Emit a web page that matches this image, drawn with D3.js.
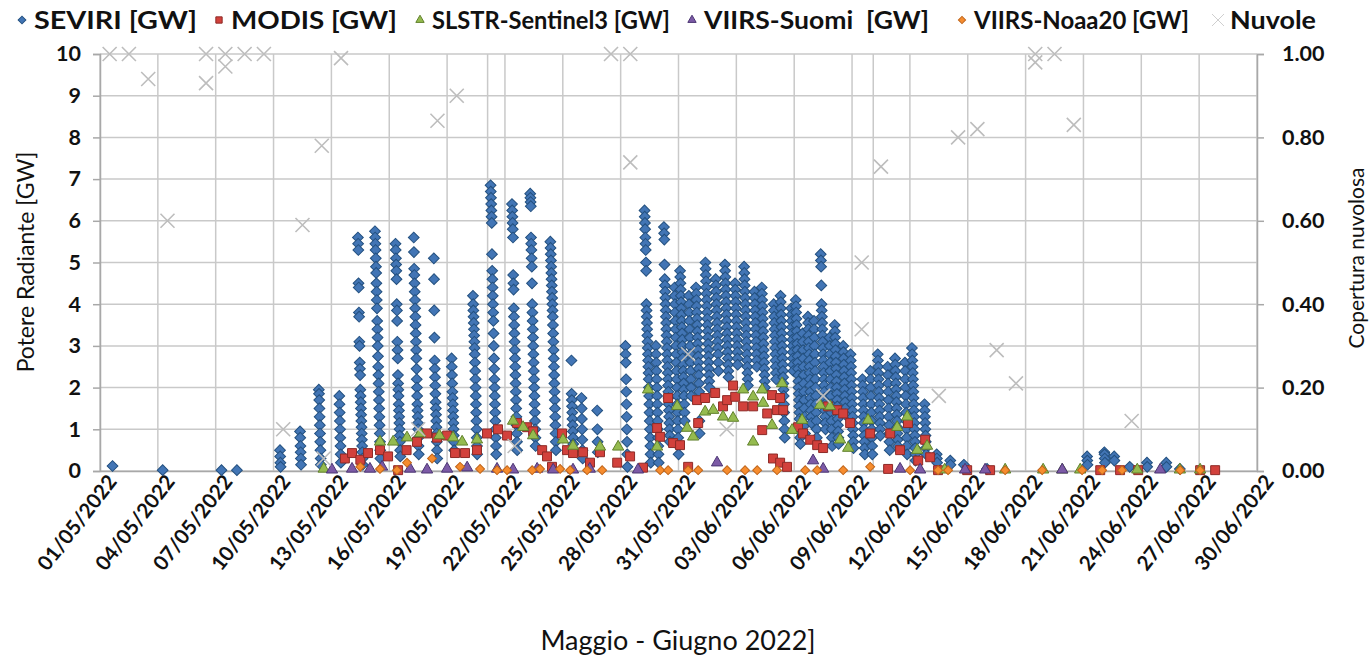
<!DOCTYPE html>
<html>
<head>
<meta charset="utf-8">
<script src="https://cdn.jsdelivr.net/npm/d3@7"></script>
<style>
body { margin: 0; background: #fff; }
svg text { font-family: Lato, "Open Sans", sans-serif; fill: #111; }
</style>
</head>
<body>
<script>
// times are in days counted from 01/05/2022 00:00 (UTC)
var tickLabels = ["01/05/2022","04/05/2022","07/05/2022","10/05/2022","13/05/2022","16/05/2022","19/05/2022",
  "22/05/2022","25/05/2022","28/05/2022","31/05/2022","03/06/2022","06/06/2022","09/06/2022","12/06/2022",
  "15/06/2022","18/06/2022","21/06/2022","24/06/2022","27/06/2022","30/06/2022"];

var seriesNames = ["SEVIRI [GW]", "MODIS [GW]", "SLSTR-Sentinel3 [GW]", "VIIRS-Suomi  [GW]", "VIIRS-Noaa20 [GW]", "Nuvole"];

// SEVIRI: one column of 15-minute retrievals per day (centre of the column)
var seviriDays = [0.65, 3.25, 6.3, 7.1, 9.35, 10.4, 11.4, 12.45, 13.5, 14.4, 15.45, 16.4, 17.4, 18.3, 19.45,
  20.4, 21.5, 22.45, 23.5, 24.5, 25.0, 25.8, 27.3, 28.4, 28.9, 29.4, 29.9, 30.2, 30.6, 31.0, 31.5, 32.0, 32.5,
  33.0, 33.5, 34.0, 34.4, 35.0, 35.4, 35.9, 36.2, 36.5, 36.8, 37.1, 37.5, 37.9, 38.2, 38.6, 39.0, 39.6, 40.0,
  40.4, 40.9, 41.3, 41.8, 42.2, 42.8, 43.4, 44.1, 44.8, 46.0, 51.2, 52.1, 52.6, 53.4, 54.3, 55.3, 56.0];
var seviriCols = [
  [0.12], [0.02], [0.02], [0.02],
  [0.5, 0.35, 0.2, 0.1],
  [0.95, 0.8, 0.6, 0.45, 0.3, 0.15],
  [1.95, 1.85, 1.7, 1.5, 1.3, 1.1, 0.9, 0.7, 0.5, 0.3, 0.15],
  [1.8, 1.6, 1.4, 1.2, 1.0, 0.8, 0.6, 0.4, 0.2],
  [5.6, 5.45, 5.3, 4.5, 4.4, 3.8, 3.7, 3.1, 3.0, 2.6, 2.45, 2.3, 1.95, 1.8, 1.65, 1.5, 1.35, 1.2, 1.05, 0.9, 0.75, 0.6, 0.45, 0.3, 0.15],
  [5.75, 5.6, 5.45, 5.3, 5.1, 4.9, 4.75, 4.5, 4.3, 4.1, 3.9, 3.6, 3.4, 3.2, 3.0, 2.75, 2.5, 2.3, 2.1, 1.9, 1.7, 1.5, 1.3, 1.1, 0.9, 0.7, 0.5, 0.3],
  [5.45, 5.3, 5.1, 4.95, 4.8, 4.6, 4.0, 3.85, 3.6, 3.1, 2.9, 2.7, 2.3, 2.1, 1.95, 1.8, 1.6, 1.45, 1.3, 1.15, 1.0, 0.85, 0.7, 0.5, 0.35],
  [5.6, 5.25, 4.85, 4.7, 4.5, 4.3, 4.1, 3.9, 3.7, 3.5, 3.3, 3.1, 2.9, 2.7, 2.45, 2.2, 2.0, 1.8, 1.6, 1.45, 1.3, 1.15, 1.0, 0.8, 0.6, 0.4],
  [5.1, 4.6, 3.85, 3.2, 2.65, 2.45, 2.25, 2.05, 1.85, 1.65, 1.5, 1.35, 1.2, 1.05, 0.9, 0.7, 0.5, 0.3],
  [2.7, 2.5, 2.3, 2.1, 1.9, 1.75, 1.6, 1.45, 1.3, 1.15, 1.0, 0.85, 0.7, 0.5],
  [4.2, 4.0, 3.85, 3.7, 3.55, 3.4, 3.25, 3.1, 2.95, 2.8, 2.6, 2.4, 2.2, 2.0, 1.8, 1.6, 1.4, 1.2, 1.0, 0.8, 0.6, 0.4],
  [6.85, 6.7, 6.55, 6.4, 6.25, 6.1, 5.95, 5.2, 4.8, 4.6, 4.4, 4.2, 4.0, 3.8, 3.6, 3.3, 3.0, 2.7, 2.45, 2.2, 2.0, 1.8, 1.6, 1.4, 1.2, 1.0, 0.8, 0.6, 0.4],
  [6.4, 6.25, 6.1, 5.95, 5.8, 5.6, 4.7, 4.5, 4.35, 3.9, 3.7, 3.5, 3.3, 3.1, 2.9, 2.7, 2.5, 2.3, 2.1, 1.9, 1.7, 1.5, 1.3, 1.1, 0.9, 0.7, 0.5],
  [6.65, 6.55, 6.45, 6.35, 5.6, 5.45, 5.3, 5.1, 4.9, 4.5, 4.0, 3.8, 3.6, 3.4, 3.2, 3.0, 2.8, 2.6, 2.4, 2.2, 2.0, 1.8, 1.6, 1.4, 1.2, 1.0, 0.8, 0.6],
  [5.5, 5.35, 5.2, 5.05, 4.9, 4.75, 4.6, 4.45, 4.3, 4.15, 4.0, 3.85, 3.7, 3.5, 3.3, 3.1, 2.9, 2.7, 2.5, 2.3, 2.1, 1.9, 1.7, 1.5, 1.3, 1.1, 0.9, 0.7, 0.5],
  [2.65, 1.85, 1.7, 1.55, 1.4, 1.25, 1.1, 0.95, 0.8, 0.65, 0.5],
  [1.75, 1.5, 1.25, 1.0, 0.75, 0.5, 0.3],
  [1.45, 1.0, 0.7, 0.45],
  [3.0, 2.8, 2.6, 2.2, 1.9, 1.6, 1.3, 1.0, 0.7, 0.4, 0.1],
  [6.25, 6.1, 5.95, 5.8, 5.6, 5.45, 5.3, 5.0, 4.8, 4.0, 3.85, 3.7, 3.55, 3.4, 3.25, 3.1, 2.95, 2.8, 2.65, 2.5, 2.35, 2.2, 2.0, 1.8, 1.6, 1.4, 1.2, 1.0, 0.8, 0.6, 0.4, 0.2],
  [3.0, 2.8, 2.6, 2.4, 2.2, 2.0, 1.8, 1.6, 1.4, 1.2, 1.0, 0.8, 0.6, 0.4, 0.2],
  [5.85, 5.7, 5.55, 4.95, 4.6, 4.45, 4.3, 4.15, 4.0, 3.85, 3.7, 3.55, 3.4, 3.25, 3.1, 2.95, 2.8, 2.65, 2.5, 2.35, 2.2, 2.05, 1.9, 1.75, 1.6, 1.45, 1.3, 1.15, 1.0, 0.85, 0.7],
  [4.4, 4.2, 4.0, 3.8, 3.6, 3.4, 3.2, 3.0, 2.8, 2.6, 2.4, 2.2, 2.0, 1.8, 1.6, 1.4, 1.2, 1.0, 0.8, 0.6, 0.4],
  [4.8, 4.65, 4.5, 4.35, 4.2, 4.05, 3.9, 3.75, 3.6, 3.45, 3.3, 3.15, 3.0, 2.85, 2.7, 2.55, 2.4, 2.25, 2.1, 1.95, 1.8, 1.6, 1.4, 1.2],
  [4.2, 4.0, 3.8, 3.6, 3.4, 3.2, 3.0, 2.8, 2.6, 2.4, 2.2, 2.0, 1.8],
  [4.4, 4.25, 4.1, 3.95, 3.8, 3.65, 3.5, 3.35, 3.2, 3.05, 2.9, 2.75, 2.6, 2.45, 2.3, 2.1, 1.9, 1.2, 0.9],
  [5.0, 4.85, 4.7, 4.55, 4.4, 4.25, 4.1, 3.95, 3.8, 3.65, 3.5, 3.35, 3.2, 3.05, 2.9, 2.75, 2.6, 2.45, 2.3, 2.15, 2.0],
  [4.6, 4.45, 4.3, 4.15, 4.0, 3.85, 3.7, 3.55, 3.4, 3.25, 3.1, 2.95, 2.8, 2.6, 2.4],
  [4.95, 4.8, 4.65, 4.5, 4.35, 4.2, 4.05, 3.9, 3.75, 3.6, 3.45, 3.3, 3.15, 3.0, 2.85, 2.7, 2.55, 2.4, 2.25],
  [4.5, 4.35, 4.2, 4.05, 3.9, 3.75, 3.6, 3.45, 3.3, 3.15, 3.0, 2.85, 2.7, 2.55],
  [4.9, 4.75, 4.6, 4.45, 4.3, 4.15, 4.0, 3.85, 3.7, 3.55, 3.4, 3.25, 3.1, 2.95, 2.8, 2.65, 2.5, 2.35, 2.2, 2.05],
  [4.3, 4.15, 4.0, 3.85, 3.7, 3.55, 3.4, 3.25, 3.1, 2.95, 2.8, 2.65, 2.5],
  [4.4, 4.25, 4.1, 3.95, 3.8, 3.65, 3.5, 3.35, 3.2, 3.05, 2.9, 2.75, 2.6, 2.45, 2.3, 2.15, 2.0],
  [4.0, 3.85, 3.7, 3.55, 3.4, 3.25, 3.1, 2.95, 2.8, 2.65, 2.5, 2.35, 2.2],
  [4.2, 4.05, 3.9, 3.75, 3.6, 3.45, 3.3, 3.15, 3.0, 2.85, 2.7, 2.55, 2.4, 2.25, 2.1, 1.95, 1.8, 1.6, 1.4, 1.2, 1.0, 0.8],
  [3.9, 3.75, 3.6, 3.45, 3.3, 3.15, 3.0, 2.85, 2.7, 2.55, 2.4],
  [4.1, 3.95, 3.8, 3.65, 3.5, 3.35, 3.2, 3.05, 2.9, 2.75, 2.6, 2.45, 2.3, 2.15, 2.0, 1.85, 1.7, 1.55, 1.4, 1.25, 1.1, 0.95, 0.8, 0.65],
  [3.3, 3.1, 2.9, 2.7, 2.5, 2.3, 2.1, 1.9, 1.7, 1.5, 1.3, 1.1, 0.9],
  [3.7, 3.55, 3.4, 3.25, 3.1, 2.95, 2.8, 2.65, 2.5, 2.35, 2.2, 2.05, 1.9, 1.75, 1.6, 1.45, 1.3, 1.15],
  [3.6, 3.4, 3.2, 3.0, 2.8, 2.6, 2.4, 2.2, 2.0, 1.8, 1.6, 1.4, 1.2, 1.0, 0.8],
  [5.2, 5.05, 4.9, 4.45, 4.0, 3.85, 3.7, 3.55, 3.4, 3.25, 3.1, 2.95, 2.8, 2.65, 2.5, 2.35, 2.2, 2.05, 1.9, 1.75, 1.6, 1.45, 1.3, 1.15, 1.0],
  [3.2, 3.0, 2.8, 2.6, 2.4, 2.2, 2.0, 1.8, 1.6, 1.4, 1.2, 1.0, 0.8, 0.6],
  [3.5, 3.35, 3.2, 3.05, 2.9, 2.75, 2.6, 2.45, 2.3, 2.15, 2.0, 1.85, 1.7, 1.55, 1.4, 1.25, 1.1, 0.95, 0.8, 0.65],
  [3.0, 2.85, 2.7, 2.55, 2.4, 2.25, 2.1, 1.95, 1.8, 1.65, 1.5, 1.35],
  [2.8, 2.65, 2.5, 2.35, 2.2, 2.05, 1.9, 1.75, 1.6, 1.45, 1.3, 1.15, 1.0, 0.85, 0.7, 0.55],
  [2.2, 2.05, 1.9, 1.75, 1.6, 1.45, 1.3, 1.15, 1.0, 0.85, 0.7, 0.55, 0.4],
  [2.4, 2.2, 2.0, 1.8, 1.6, 1.4, 1.2, 1.0, 0.8, 0.6, 0.4],
  [2.8, 2.65, 2.5, 2.35, 2.2, 2.05, 1.9, 1.75, 1.6, 1.45, 1.3, 1.15, 1.0, 0.85],
  [2.5, 2.3, 2.1, 1.9, 1.7, 1.5, 1.3, 1.1, 0.9, 0.7, 0.5],
  [2.7, 2.55, 2.4, 2.25, 2.1, 1.95, 1.8, 1.65, 1.5, 1.35, 1.2, 1.05, 0.9, 0.75, 0.6],
  [2.6, 2.4, 2.2, 2.0, 1.8, 1.6, 1.4, 1.2, 1.0, 0.8, 0.6, 0.4],
  [2.95, 2.8, 2.65, 2.5, 2.35, 2.2, 2.05, 1.9, 1.75, 1.6, 1.45, 1.3, 1.15, 1.0, 0.85, 0.7, 0.55, 0.4, 0.25],
  [1.6, 1.45, 1.3, 1.15, 1.0, 0.85, 0.7, 0.55, 0.4],
  [0.4, 0.3, 0.2],
  [0.25, 0.15],
  [0.15],
  [0.05],
  [0.35, 0.25, 0.15],
  [0.45, 0.4, 0.3, 0.2],
  [0.35, 0.25],
  [0.1],
  [0.2, 0.1],
  [0.2, 0.1],
  [0.05]
];

var modisDays = [12.7, 13.07, 13.5, 13.9, 14.52, 14.94, 15.46, 15.9, 16.44, 16.96, 17.48, 18.0, 18.41, 18.93, 19.55,
  20.07, 20.64, 21.11, 21.63, 22.15, 22.46, 22.93, 23.18, 23.44, 23.96, 24.22, 24.53, 25.05, 25.41, 25.93,
  26.82, 27.49, 28.16, 28.89, 29.05, 29.46, 29.72, 30.08, 30.5, 30.96, 31.02, 31.38, 31.9, 32.31, 32.52,
  32.83, 32.94, 33.35, 33.87, 34.34, 34.6, 34.85, 34.9, 35.11, 35.27, 35.27, 35.43, 35.63, 36.2, 36.46,
  36.83, 37.19, 37.5, 37.76, 38.23, 38.54, 38.9, 39.94, 40.87, 40.98, 41.49, 41.9, 42.43, 42.79, 43.05,
  43.46, 44.97, 46.16, 51.87, 52.9, 53.84, 57.05, 57.83];
var modisVals = [0.3, 0.43, 0.27, 0.43, 0.5, 0.35, 0.02, 0.5, 0.7, 0.9, 0.8, 0.85, 0.43, 0.43, 0.5,
  0.9, 1.0, 0.85, 1.15, 1.05, 0.95, 0.5, 0.35, 0.1, 0.9, 0.5, 0.43, 0.45, 0.2, 0.45,
  0.2, 0.35, 0.08, 1.03, 0.82, 1.75, 0.67, 0.62, 0.1, 1.7, 1.15, 1.75, 1.87, 1.55, 1.7,
  2.05, 1.78, 1.55, 1.55, 0.98, 1.38, 1.82, 0.3, 1.46, 1.75, 0.2, 1.46, 0.1, 1.05, 0.9,
  0.75, 0.62, 0.55, 1.55, 1.46, 1.38, 1.15, 0.9, 0.05, 0.9, 0.5, 1.15, 0.25, 0.75, 0.33,
  0.02, 0.02, 0.02, 0.02, 0.02, 0.02, 0.02, 0.02];

var slstrDays = [11.6, 14.52, 15.2, 15.92, 16.6, 17.6, 18.31, 18.78, 19.55, 21.42, 21.94, 22.46, 24.01, 24.53,
  25.93, 26.87, 28.42, 28.89, 29.93, 30.45, 30.76, 31.38, 31.8, 32.31, 32.83, 33.35, 33.87, 33.87, 34.34,
  34.39, 34.85, 35.37, 35.89, 36.41, 37.34, 37.86, 38.38, 38.8, 39.83, 41.34, 41.86, 42.38, 42.89, 43.8,
  46.94, 48.91, 49.9, 50.83, 53.79, 56.0, 57.05];
var slstrVals = [0.05, 0.7, 0.7, 0.8, 0.9, 0.85, 0.8, 0.7, 0.75, 1.2, 1.05, 0.85, 0.75, 0.6,
  0.58, 0.58, 1.95, 0.58, 1.55, 1.03, 0.82, 1.42, 1.46, 1.3, 1.27, 1.95, 1.78, 0.7, 1.95,
  1.63, 1.1, 2.1, 0.98, 1.22, 1.58, 1.55, 0.75, 0.55, 1.22, 1.05, 1.3, 0.5, 0.6, 0.03,
  0.03, 0.03, 0.03, 0.03, 0.03, 0.03, 0.03];

var suomiDays = [12.03, 13.07, 14.0, 14.63, 16.08, 16.96, 18.0, 19.04, 20.59, 21.42, 22.67, 23.5, 24.53, 25.4,
  27.9, 32.0, 36.98, 37.5, 41.49, 42.53, 44.86, 45.9, 49.9, 54.98];
var suomiVals = [0.03, 0.05, 0.05, 0.1, 0.05, 0.03, 0.05, 0.08, 0.05, 0.03, 0.05, 0.03, 0.03, 0.05,
  0.03, 0.2, 0.25, 0.05, 0.05, 0.03, 0.03, 0.03, 0.03, 0.03];

var noaaDays = [13.5, 14.52, 15.4, 15.92, 17.22, 18.67, 19.71, 20.59, 21.11, 22.41, 22.82, 23.86, 24.38, 25.26,
  26.04, 29.05, 29.46, 30.5, 31.02, 32.52, 33.45, 34.08, 35.11, 36.57, 37.19, 38.54, 39.94, 42.01, 43.46,
  43.98, 46.94, 48.86, 50.93, 51.97, 53.0, 56.02, 57.05];
var noaaVals = [0.1, 0.05, 0.02, 0.2, 0.3, 0.1, 0.05, 0.02, 0.02, 0.02, 0.05, 0.05, 0.02, 0.02,
  0.02, 0.02, 0.02, 0.02, 0.02, 0.02, 0.02, 0.02, 0.02, 0.02, 0.02, 0.02, 0.1, 0.02, 0.02,
  0.02, 0.02, 0.02, 0.02, 0.02, 0.02, 0.02, 0.02];

// cloud cover, secondary axis (0..1)
var nuvoleDays = [0.5, 1.5, 2.5, 3.5, 5.5, 5.5, 6.5, 6.5, 7.5, 8.5, 9.5, 10.5, 11.5, 11.6, 12.5, 16.5, 17.5, 18.5,
  21.5, 26.5, 27.5, 27.5, 30.5, 32.5, 37.5, 39.5, 39.5, 40.5, 43.5, 44.5, 45.5, 46.5, 47.5, 48.5, 48.5,
  49.5, 50.5, 53.5];
var nuvoleVals = [1.0, 1.0, 0.94, 0.6, 1.0, 0.93, 1.0, 0.97, 1.0, 1.0, 0.1, 0.59, 0.78, 0.03, 0.99, 0.1, 0.84, 0.9,
  0.06, 1.0, 1.0, 0.74, 0.28, 0.1, 0.18, 0.5, 0.34, 0.73, 0.18, 0.8, 0.82, 0.29, 0.21, 1.0, 0.98,
  1.0, 0.83, 0.12];

var extraGridDays = [20.1, 40.1];

var width = 1372, height = 660;
var plotL = 100, plotR = 1257, plotT = 54, plotB = 471;

var parseDay = d3.utcParse("%d/%m/%Y");
var t0 = parseDay("01/05/2022").getTime();
function toDate(d) { return new Date(t0 + d * 864e5); }

var x = d3.scaleUtc().domain([parseDay("01/05/2022"), parseDay("30/06/2022")]).range([plotL, plotR]);
var y = d3.scaleLinear().domain([0, 10]).range([plotB, plotT]);
var y2 = d3.scaleLinear().domain([0, 1]).range([plotB, plotT]);

var svg = d3.select("body").append("svg").attr("width", width).attr("height", height);

// grid
var grid = svg.append("g").attr("stroke", "#c9c9c9").attr("stroke-width", 1.5);
grid.selectAll(".hg").data(d3.range(0, 11)).enter().append("line")
  .attr("x1", plotL).attr("x2", plotR).attr("y1", function(d){ return y(d); }).attr("y2", function(d){ return y(d); });
grid.selectAll(".vg").data(tickLabels.map(parseDay)).enter().append("line")
  .attr("x1", function(d){ return x(d); }).attr("x2", function(d){ return x(d); }).attr("y1", plotT).attr("y2", plotB);
grid.selectAll(".eg").data(extraGridDays).enter().append("line")
  .attr("x1", function(d){ return x(toDate(d)); }).attr("x2", function(d){ return x(toDate(d)); }).attr("y1", plotT).attr("y2", plotB);

// axes
var axL = svg.append("g").attr("transform", "translate(" + plotL + ",0)")
  .call(d3.axisLeft(y).tickValues(d3.range(0, 11)).tickSize(7).tickPadding(12));
var axR = svg.append("g").attr("transform", "translate(" + plotR + ",0)")
  .call(d3.axisRight(y2).tickValues([0, 0.2, 0.4, 0.6, 0.8, 1.0]).tickFormat(d3.format(".2f")).tickSize(7).tickPadding(18));
var axB = svg.append("g").attr("transform", "translate(0," + plotB + ")")
  .call(d3.axisBottom(x).tickValues(tickLabels.map(parseDay)).tickFormat(d3.utcFormat("%d/%m/%Y")).tickSize(0));
[axL, axR, axB].forEach(function(a){
  a.selectAll("path, line").attr("stroke", "#a8a8a8").attr("stroke-width", 1.5);
  a.selectAll("text").attr("font-size", 21.5).attr("font-weight", 700).attr("fill", "#111");
});
axB.selectAll("text").attr("font-size", 20.5)
  .attr("text-anchor", "end").attr("y", 0).attr("dx", "0.1em").attr("dy", "1.0em")
  .attr("transform", "rotate(-52)");

// markers
var diamond = d3.symbol().type(d3.symbolSquare);
var square = d3.symbol().type(d3.symbolSquare);
var triangle = d3.symbol().type(d3.symbolTriangle);
var cross = "M-7,-7L7,7M-7,7L7,-7";

var seviri = [];
seviriDays.forEach(function(d, i){
  var col = seviriCols[i], step = 1 / 96;  // 15 min cadence
  col.forEach(function(v, j){ seviri.push({t: d + (j - (col.length - 1) / 2) * step, v: v}); });
});
function pairs(days, vals){ return days.map(function(d, i){ return {t: d, v: vals[i]}; }); }

function drawSeries(data, path, fill, stroke, rot){
  svg.append("g").selectAll("path").data(data).enter().append("path")
    .attr("d", path)
    .attr("transform", function(d){ return "translate(" + x(toDate(d.t)) + "," + y(d.v) + ") rotate(" + rot + ")"; })
    .attr("fill", fill).attr("stroke", stroke).attr("stroke-width", 1);
}
drawSeries(seviri, diamond.size(58)(), "#4275b5", "#23507f", 45);
drawSeries(pairs(modisDays, modisVals), square.size(80)(), "#d2413c", "#8e2b27", 0);
drawSeries(pairs(slstrDays, slstrVals), triangle.size(55)(), "#95bb4f", "#61812c", 0);
drawSeries(pairs(suomiDays, suomiVals), triangle.size(55)(), "#7c5aa6", "#4b3573", 0);
drawSeries(pairs(noaaDays, noaaVals), diamond.size(40)(), "#f68c2e", "#c0651a", 45);
svg.append("g").selectAll("path").data(pairs(nuvoleDays, nuvoleVals)).enter().append("path")
  .attr("d", cross)
  .attr("transform", function(d){ return "translate(" + x(toDate(d.t)) + "," + y2(d.v) + ")"; })
  .attr("fill", "none").attr("stroke", "#bdbdbd").attr("stroke-width", 1.6);

// axis titles
svg.append("text").attr("transform", "translate(34,262) rotate(-90)").attr("text-anchor", "middle")
  .attr("font-size", 23).text("Potere Radiante [GW]");
svg.append("text").attr("transform", "translate(1364,258) rotate(-90)").attr("text-anchor", "middle")
  .attr("font-size", 21).text("Copertura nuvolosa");
svg.append("text").attr("x", 678).attr("y", 650).attr("text-anchor", "middle")
  .attr("font-size", 27).text("Maggio - Giugno 2022]");

// legend
var legX = [22, 219, 420, 692, 962, 1218];
var legW = [163, 166, 238, 225, 215, 86];
var legMarks = [
  {p: diamond.size(30)(), f: "#4275b5", s: "#23507f", r: 45},
  {p: square.size(40)(), f: "#d2413c", s: "#8e2b27", r: 0},
  {p: triangle.size(30)(), f: "#95bb4f", s: "#61812c", r: 0},
  {p: triangle.size(30)(), f: "#7c5aa6", s: "#4b3573", r: 0},
  {p: diamond.size(26)(), f: "#f68c2e", s: "#c0651a", r: 45},
  {p: "M-6,-6L6,6M-6,6L6,-6", f: "none", s: "#cfcfcf", r: 0}
];
var leg = svg.append("g").selectAll("g").data(seriesNames).enter().append("g")
  .attr("transform", function(d, i){ return "translate(" + legX[i] + ",20)"; });
leg.append("path").attr("d", function(d, i){ return legMarks[i].p; })
  .attr("transform", function(d, i){ return "rotate(" + legMarks[i].r + ")"; })
  .attr("fill", function(d, i){ return legMarks[i].f; })
  .attr("stroke", function(d, i){ return legMarks[i].s; }).attr("stroke-width", 1);
leg.append("text").attr("x", 12).attr("dy", "0.36em").attr("font-size", 24.5).attr("font-weight", 700)
  .attr("textLength", function(d, i){ return legW[i]; }).attr("lengthAdjust", "spacingAndGlyphs")
  .style("white-space", "pre").text(function(d){ return d; });
</script>
</body>
</html>
